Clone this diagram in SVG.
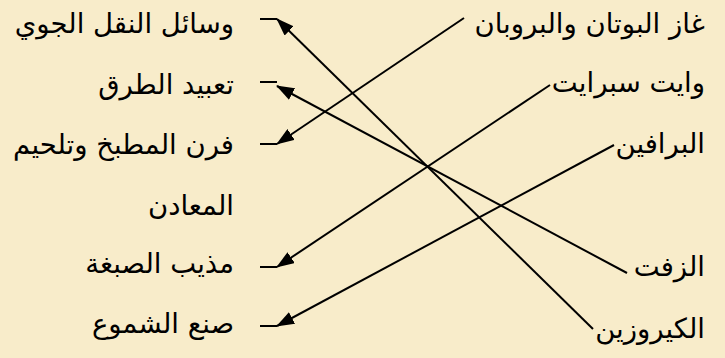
<svg xmlns="http://www.w3.org/2000/svg" width="725" height="358" viewBox="0 0 725 358">
<style>
.t{font-family:"DejaVu Sans","Noto Sans",sans-serif;font-size:27.5px;fill:#000;text-anchor:end}
.c{stroke:#000;stroke-width:2;fill:none}
.d{stroke:#000;stroke-width:2}
</style>
<defs>
<marker id="ah" viewBox="0 0 18 13" refX="17" refY="6.5" markerWidth="18" markerHeight="13" markerUnits="userSpaceOnUse" orient="auto">
<path d="M0,0 L18,6.5 L0,13 Z" fill="#000"/>
</marker>
</defs>
<rect width="725" height="358" fill="#F8ECCA"/>
<g id="l1"><text class="t" x="234" y="33">وسائل النقل الجوي</text><line class="d" x1="260" y1="19" x2="277" y2="19"/></g>
<g id="l2"><text class="t" x="234" y="94">تعبيد الطرق</text><line class="d" x1="260" y1="82" x2="277" y2="82"/></g>
<g id="l3"><text class="t" x="234" y="154">فرن المطبخ وتلحيم</text><line class="d" x1="260" y1="144" x2="277" y2="144"/></g>
<g id="l3b"><text class="t" x="234" y="215">المعادن</text></g>
<g id="l4"><text class="t" x="234" y="273">مذيب الصبغة</text><line class="d" x1="260" y1="267" x2="277" y2="267"/></g>
<g id="l5"><text class="t" x="234" y="333">صنع الشموع</text><line class="d" x1="260" y1="326" x2="277" y2="326"/></g>
<g id="r1"><text class="t" x="705" y="33">غاز البوتان والبروبان</text></g>
<g id="r2"><text class="t" x="705" y="92">وايت سبرايت</text></g>
<g id="r3"><text class="t" x="705" y="153">البرافين</text></g>
<g id="r4"><text class="t" x="705" y="276">الزفت</text></g>
<g id="r5"><text class="t" x="705" y="338">الكيروزين</text></g>
<g id="connectors">
<line class="c" x1="464" y1="18" x2="277" y2="144" marker-end="url(#ah)"/>
<line class="c" x1="550" y1="85" x2="277" y2="267" marker-end="url(#ah)"/>
<line class="c" x1="614" y1="145" x2="277" y2="326" marker-end="url(#ah)"/>
<line class="c" x1="627" y1="273" x2="277" y2="86" marker-end="url(#ah)"/>
<line class="c" x1="593" y1="329" x2="277" y2="19" marker-end="url(#ah)"/>
</g>
</svg>
